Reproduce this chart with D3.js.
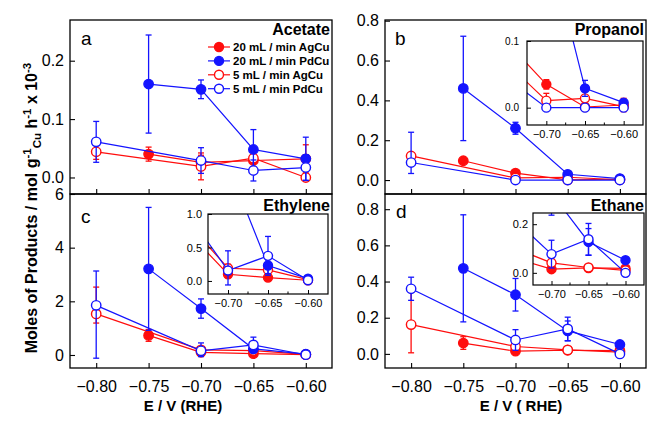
<!DOCTYPE html>
<html><head><meta charset="utf-8">
<script src="https://cdn.jsdelivr.net/npm/d3@7"></script>
<style>
body{margin:0;background:#fff}
svg{display:block}
text{font-family:"Liberation Sans",Arial,Helvetica,sans-serif}
</style>
</head><body>
<svg id="chart" width="648" height="421"></svg>
<script>
// ---------------- DATA ----------------
const potentials = [-0.80, -0.75, -0.70, -0.65, -0.60];
const seriesNames = ["20 mL / min AgCu", "20 mL / min PdCu", "5 mL / min AgCu", "5 mL / min PdCu"];
const products = ["Acetate", "Propanol", "Ethylene", "Ethane"];
const panelLetters = ["a", "b", "c", "d"];

// rows follow seriesNames order; null = not measured
const acetateValues = [
  [null, 0.040, 0.026, 0.029, 0.032],
  [null, 0.160, 0.151, 0.048, 0.032],
  [0.044, null, 0.019, 0.033, 0.000],
  [0.061, null, 0.029, 0.012, 0.017]
];
const acetateErrors = [
  [null, 0.012, 0.012, 0.018, 0.024],
  [null, 0.084, 0.016, 0.034, 0.037],
  [0.013, null, 0.023, 0.015, 0],
  [0.035, null, 0.022, 0.018, 0.022]
];
const propanolValues = [
  [null, 0.097, 0.035, 0.001, 0.004],
  [null, 0.460, 0.260, 0.029, 0.0075],
  [0.121, null, 0.0105, 0.014, 0.0015],
  [0.088, null, 0.000, 0.000, 0.000]
];
const propanolErrors = [
  [null, 0.010, 0.007, 0, 0.010],
  [null, 0.262, 0.030, 0.012, 0.004],
  [0.010, null, 0.011, 0.011, 0],
  [[0.055, 0.152], null, 0, 0, 0]
];
const ethyleneValues = [
  [null, 0.73, 0.10, 0.05, 0.01],
  [null, 3.21, 1.73, 0.23, 0.035],
  [1.53, null, 0.19, 0.165, 0.02],
  [1.85, null, 0.155, 0.375, 0.01]
];
const ethyleneErrors = [
  [null, 0.22, 0.05, 0.03, 0.02],
  [null, 2.29, 0.36, 0.12, 0.03],
  [[0.34, 1.0], null, 0.06, 0.06, 0.02],
  [[1.97, 1.28], null, [0.215, 0.295], 0.29, 0.02]
];
const ethaneValues = [
  [null, 0.060, 0.015, 0.020, 0.018],
  [null, 0.473, 0.327, 0.127, 0.052],
  [0.162, null, 0.041, 0.022, 0.010],
  [0.360, null, 0.077, 0.138, 0.000]
];
const ethaneErrors = [
  [null, 0.035, 0.010, 0.010, 0.008],
  [null, 0.296, 0.090, 0.055, 0.005],
  [[0.156, 0.178], null, 0.020, 0.010, 0],
  [0.064, null, 0.057, 0.065, 0]
];

const xTicks = [-0.80, -0.75, -0.70, -0.65, -0.60];
const insetXTicks = [-0.70, -0.65, -0.60];
const insetXMinorTicks = [-0.675, -0.625];
const acetateYTicks = [0, 0.1, 0.2];
const propanolYTicks = [0, 0.2, 0.4, 0.6, 0.8];
const ethyleneYTicks = [0, 2, 4, 6];
const ethaneYTicks = [0, 0.2, 0.4, 0.6, 0.8];
const propanolInsetYTicks = [0, 0.1];
const ethyleneInsetYTicks = [0, 0.5, 1.0];
const ethaneInsetYTicks = [0, 0.2];

// ---------------- STYLE / LAYOUT ----------------
const RED = "#ff0d0d", BLUE = "#1414ff";
const seriesStyle = [
  {color: RED, filled: true},
  {color: BLUE, filled: true},
  {color: RED, filled: false},
  {color: BLUE, filled: false}
];
const drawOrder = [0, 2, 1, 3];

const panels = [
  {values: acetateValues, errors: acetateErrors, yTicks: acetateYTicks, fmt: ".1f",
   x0: 70, x1: 332, y0: 20, y1: 194, ydom: [-0.0283, 0.2697], xLabels: false,
   letter: [81, 45], title: [330, 35], inset: null, legend: true},
  {values: propanolValues, errors: propanolErrors, yTicks: propanolYTicks, fmt: ".1f",
   x0: 385, x1: 646, y0: 20, y1: 194, ydom: [-0.070, 0.8035], xLabels: false,
   letter: [395, 45], title: [644, 35],
   inset: {x0: 527, x1: 643, y0: 41, y1: 125, ydom: [-0.026, 0.1], yTicks: propanolInsetYTicks, fmt: ".1f", yfs: 10, ypad: 8}},
  {values: ethyleneValues, errors: ethyleneErrors, yTicks: ethyleneYTicks, fmt: "d",
   x0: 70, x1: 332, y0: 194, y1: 368, ydom: [-0.485, 6], xLabels: true,
   letter: [81, 223], title: [330, 211],
   inset: {x0: 208, x1: 328, y0: 214, y1: 294, ydom: [-0.195, 1.0], yTicks: ethyleneInsetYTicks, fmt: ".1f", yfs: 11, ypad: 6}},
  {values: ethaneValues, errors: ethaneErrors, yTicks: ethaneYTicks, fmt: ".1f",
   x0: 385, x1: 646, y0: 194, y1: 368, ydom: [-0.078, 0.884], xLabels: true,
   letter: [396, 218], title: [644, 211],
   inset: {x0: 533, x1: 644, y0: 213, y1: 285, ydom: [-0.05, 0.246], yTicks: ethaneInsetYTicks, fmt: ".1f", yfs: 11, ypad: 5}}
];

const svg = d3.select("#chart");
svg.append("rect").attr("width", 648).attr("height", 421).attr("fill", "#fff");
let clipCount = 0;

function errPair(e) {
  if (e === null || e === undefined) return [0, 0];
  if (Array.isArray(e)) return e;
  return [e, e];
}

function drawSeries(g, x, y, values, errors, r, cap) {
  drawOrder.forEach(si => {
    const st = seriesStyle[si];
    const pts = potentials.map((p, i) => ({p, v: values[si][i], e: errPair(errors[si][i])}))
      .filter(d => d.v !== null);
    g.append("path").datum(pts)
      .attr("fill", "none").attr("stroke", st.color).attr("stroke-width", 1.2)
      .attr("d", d3.line().x(d => x(d.p)).y(d => y(d.v)));
    pts.filter(d => d.e[0] > 0 || d.e[1] > 0).forEach(d => {
      const xx = x(d.p), ylo = y(d.v - d.e[0]), yhi = y(d.v + d.e[1]);
      g.append("line").attr("x1", xx).attr("x2", xx).attr("y1", ylo).attr("y2", yhi)
        .attr("stroke", st.color).attr("stroke-width", 1.3);
      [ylo, yhi].forEach(yy => g.append("line").attr("x1", xx - cap).attr("x2", xx + cap)
        .attr("y1", yy).attr("y2", yy).attr("stroke", st.color).attr("stroke-width", 1.3));
    });
    g.selectAll(null).data(pts).enter().append("circle")
      .attr("cx", d => x(d.p)).attr("cy", d => y(d.v)).attr("r", r)
      .attr("fill", st.filled ? st.color : "#fff")
      .attr("stroke", st.color).attr("stroke-width", 1.4);
  });
}

function clipRect(x0, y0, w, h) {
  const id = "clip" + (clipCount++);
  svg.append("clipPath").attr("id", id).append("rect")
    .attr("x", x0).attr("y", y0).attr("width", w).attr("height", h);
  return "url(#" + id + ")";
}

panels.forEach((P, pi) => {
  const x = d3.scaleLinear().domain([-0.825, -0.575]).range([P.x0, P.x1]);
  const y = d3.scaleLinear().domain(P.ydom).range([P.y1, P.y0]);

  const content = svg.append("g").attr("clip-path", clipRect(P.x0, P.y0, P.x1 - P.x0, P.y1 - P.y0));
  drawSeries(content, x, y, P.values, P.errors, 4.7, 3);

  // axes
  const gx = svg.append("g").attr("transform", `translate(0,${P.y1})`)
    .call(d3.axisBottom(x).tickValues(xTicks).tickSize(-5).tickPadding(12.5)
      .tickFormat(P.xLabels ? d3.format(".2f") : () => ""));
  gx.select(".domain").remove();
  gx.selectAll("line").attr("stroke", "#000").attr("stroke-width", 1.1);
  gx.selectAll("text").attr("font-size", 16).attr("fill", "#000");

  const gy = svg.append("g").attr("transform", `translate(${P.x0},0)`)
    .call(d3.axisLeft(y).tickValues(P.yTicks).tickSize(-5).tickPadding(6).tickFormat(d3.format(P.fmt)));
  gy.select(".domain").remove();
  gy.selectAll("line").attr("stroke", "#000").attr("stroke-width", 1.1);
  gy.selectAll("text").attr("font-size", 16).attr("fill", "#000");

  svg.append("rect").attr("x", P.x0).attr("y", P.y0).attr("width", P.x1 - P.x0).attr("height", P.y1 - P.y0)
    .attr("fill", "none").attr("stroke", "#000").attr("stroke-width", 1.3);

  // letter and title
  svg.append("text").attr("x", P.letter[0]).attr("y", P.letter[1]).attr("font-size", 19)
    .text(panelLetters[pi]);
  svg.append("text").attr("x", P.title[0]).attr("y", P.title[1]).attr("font-size", 16)
    .attr("font-weight", "bold").attr("text-anchor", "end").text(products[pi]);

  // inset
  if (P.inset) {
    const I = P.inset;
    const ix = d3.scaleLinear().domain([-0.725, -0.575]).range([I.x0, I.x1]);
    const iy = d3.scaleLinear().domain(I.ydom).range([I.y1, I.y0]);
    svg.append("rect").attr("x", I.x0).attr("y", I.y0).attr("width", I.x1 - I.x0).attr("height", I.y1 - I.y0)
      .attr("fill", "#fff");
    const ic = svg.append("g").attr("clip-path", clipRect(I.x0, I.y0, I.x1 - I.x0, I.y1 - I.y0));
    drawSeries(ic, ix, iy, P.values, P.errors, 4.5, 3);

    const igx = svg.append("g").attr("transform", `translate(0,${I.y1})`)
      .call(d3.axisBottom(ix).tickValues(insetXTicks).tickSize(-4).tickPadding(5).tickFormat(d3.format(".2f")));
    igx.select(".domain").remove();
    igx.selectAll("line").attr("stroke", "#000");
    igx.selectAll("text").attr("font-size", 11).attr("fill", "#000");
    insetXMinorTicks.forEach(t => svg.append("line").attr("x1", ix(t)).attr("x2", ix(t))
      .attr("y1", I.y1).attr("y2", I.y1 - 2.5).attr("stroke", "#000"));

    const igy = svg.append("g").attr("transform", `translate(${I.x0},0)`)
      .call(d3.axisLeft(iy).tickValues(I.yTicks).tickSize(-4).tickPadding(I.ypad).tickFormat(d3.format(I.fmt)));
    igy.select(".domain").remove();
    igy.selectAll("line").attr("stroke", "#000");
    igy.selectAll("text").attr("font-size", I.yfs).attr("fill", "#000");

    svg.append("rect").attr("x", I.x0).attr("y", I.y0).attr("width", I.x1 - I.x0).attr("height", I.y1 - I.y0)
      .attr("fill", "none").attr("stroke", "#000").attr("stroke-width", 1.2);
  }

  // legend
  if (P.legend) {
    const lg = svg.append("g");
    seriesNames.forEach((name, i) => {
      const ly = 47 + i * 13.9;
      const st = seriesStyle[i];
      lg.append("line").attr("x1", 208).attr("x2", 230).attr("y1", ly).attr("y2", ly)
        .attr("stroke", st.color).attr("stroke-width", 1.2);
      lg.append("circle").attr("cx", 219).attr("cy", ly).attr("r", 4.5)
        .attr("fill", st.filled ? st.color : "#fff").attr("stroke", st.color).attr("stroke-width", 1.4);
      lg.append("text").attr("x", 233).attr("y", ly + 4).attr("font-size", 11.5)
        .attr("font-weight", "bold").text(name);
    });
  }
});

// axis titles
svg.append("text").attr("x", 183).attr("y", 411).attr("text-anchor", "middle")
  .attr("font-size", 15).attr("font-weight", "bold").text("E / V (RHE)");
svg.append("text").attr("x", 521).attr("y", 411).attr("text-anchor", "middle")
  .attr("font-size", 15).attr("font-weight", "bold").text("E / V ( RHE)");

const yl = svg.append("text").attr("transform", "translate(37,208) rotate(-90)")
  .attr("text-anchor", "middle").attr("font-weight", "bold").attr("font-size", 16);
yl.append("tspan").text("Moles of Products / mol g");
yl.append("tspan").attr("font-size", 11.5).attr("dy", -6).text("-1");
yl.append("tspan").attr("font-size", 11.5).attr("dy", 10).text("Cu");
yl.append("tspan").attr("dy", -4).text(" h");
yl.append("tspan").attr("font-size", 11.5).attr("dy", -6).text("-1");
yl.append("tspan").attr("dy", 6).text(" x 10");
yl.append("tspan").attr("font-size", 11.5).attr("dy", -6).text("-3");
</script>
</body></html>
